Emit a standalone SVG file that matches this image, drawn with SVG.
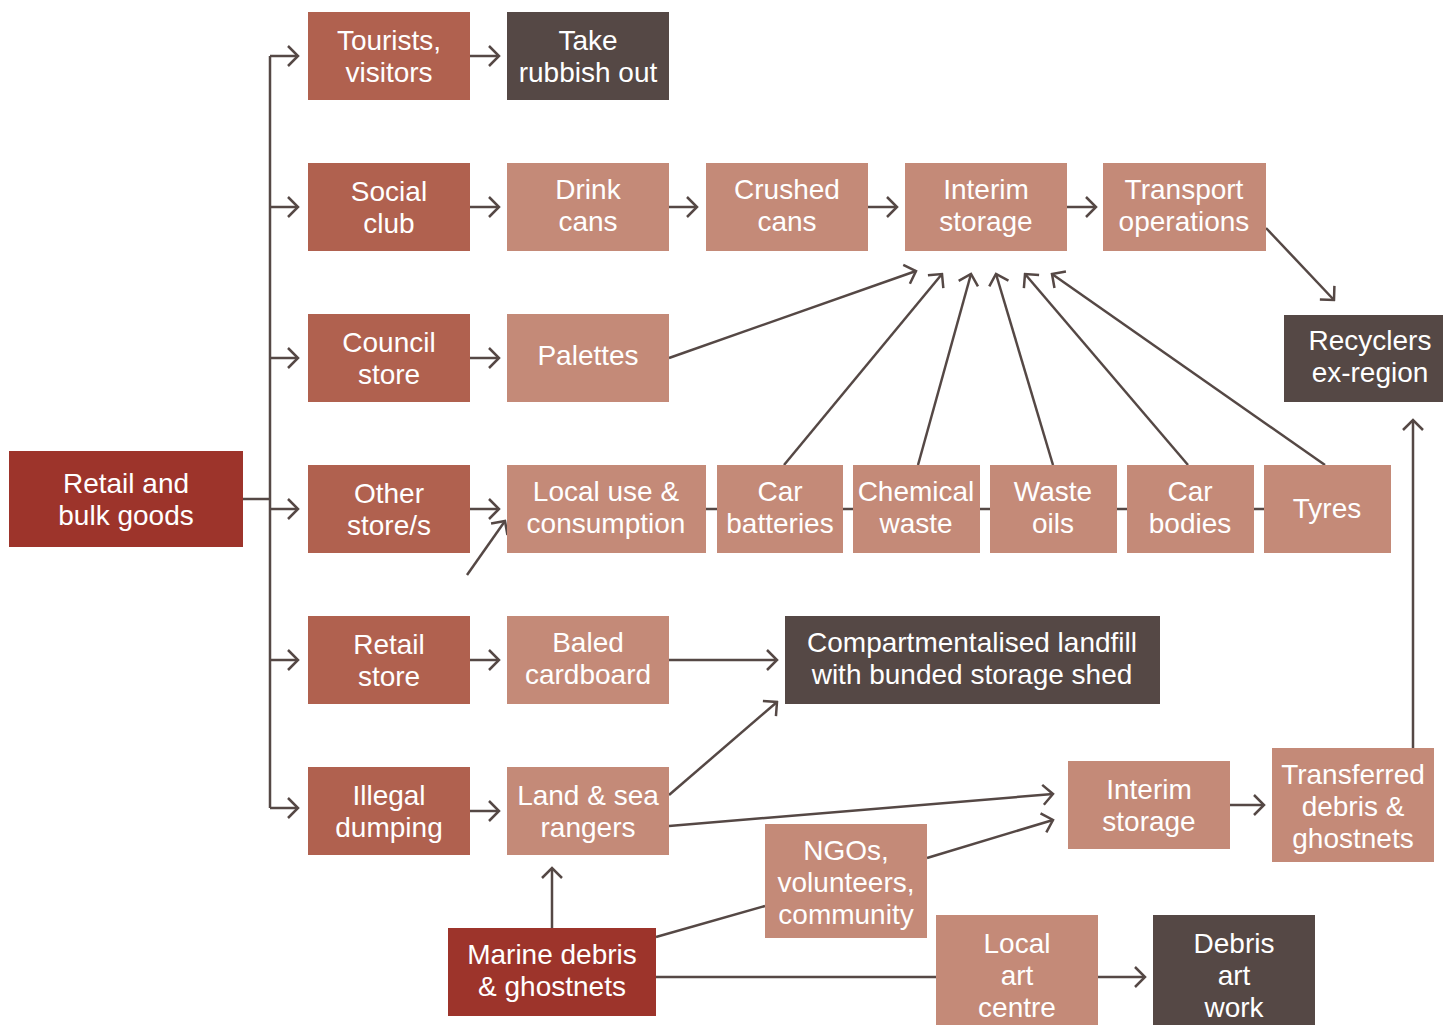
<svg xmlns="http://www.w3.org/2000/svg" width="1443" height="1025" viewBox="0 0 1443 1025">
<style>
.n rect{stroke:none}
.red{fill:#9d342b}
.mid{fill:#b0614f}
.lt{fill:#c48a78}
.dk{fill:#554845}
text{font-family:"Liberation Sans",Arial,Helvetica,sans-serif;font-size:28px;fill:#ffffff;text-anchor:middle}
.c line,.c polyline{stroke:#554845;stroke-width:2.5;fill:none}
</style>
<defs>
<marker id="ah" viewBox="-13 -13 15 26" refX="0" refY="0" markerWidth="15" markerHeight="26" markerUnits="userSpaceOnUse" orient="auto">
<path d="M-10,-10 L0,0 L-10,10" fill="none" stroke="#554845" stroke-width="2.5"/>
</marker>
</defs>
<rect width="1443" height="1025" fill="#ffffff"/>
<g class="c" id="connectors">
<polyline points="243,499 270,499"/>
<line x1="270" y1="56" x2="270" y2="808"/>
<line x1="270" y1="56" x2="298" y2="56" marker-end="url(#ah)"/>
<line x1="270" y1="207" x2="298" y2="207" marker-end="url(#ah)"/>
<line x1="270" y1="358" x2="298" y2="358" marker-end="url(#ah)"/>
<line x1="270" y1="509" x2="298" y2="509" marker-end="url(#ah)"/>
<line x1="270" y1="660" x2="298" y2="660" marker-end="url(#ah)"/>
<line x1="270" y1="808" x2="298" y2="808" marker-end="url(#ah)"/>
<line x1="470" y1="56" x2="499" y2="56" marker-end="url(#ah)"/>
<line x1="470" y1="207" x2="499" y2="207" marker-end="url(#ah)"/>
<line x1="470" y1="358" x2="499" y2="358" marker-end="url(#ah)"/>
<line x1="470" y1="509" x2="499" y2="509" marker-end="url(#ah)"/>
<line x1="467" y1="575" x2="505" y2="521" marker-end="url(#ah)"/>
<line x1="470" y1="660" x2="499" y2="660" marker-end="url(#ah)"/>
<line x1="470" y1="811" x2="499" y2="811" marker-end="url(#ah)"/>
<line x1="669" y1="207" x2="697" y2="207" marker-end="url(#ah)"/>
<line x1="868" y1="207" x2="897" y2="207" marker-end="url(#ah)"/>
<line x1="1067" y1="207" x2="1096" y2="207" marker-end="url(#ah)"/>
<line x1="1266" y1="228" x2="1334" y2="300" marker-end="url(#ah)"/>
<line x1="669" y1="358" x2="916" y2="271" marker-end="url(#ah)"/>
<line x1="706" y1="509" x2="1264" y2="509"/>
<line x1="784" y1="465" x2="942" y2="274" marker-end="url(#ah)"/>
<line x1="918" y1="465" x2="971" y2="274" marker-end="url(#ah)"/>
<line x1="1053" y1="465" x2="996" y2="274" marker-end="url(#ah)"/>
<line x1="1188" y1="465" x2="1025" y2="274" marker-end="url(#ah)"/>
<line x1="1325" y1="465" x2="1052" y2="274" marker-end="url(#ah)"/>
<line x1="669" y1="660" x2="777" y2="660" marker-end="url(#ah)"/>
<line x1="669" y1="795" x2="777" y2="702" marker-end="url(#ah)"/>
<line x1="669" y1="826" x2="1053" y2="794" marker-end="url(#ah)"/>
<line x1="927" y1="858" x2="1053" y2="820" marker-end="url(#ah)"/>
<line x1="1230" y1="805" x2="1264" y2="805" marker-end="url(#ah)"/>
<line x1="1413" y1="748" x2="1413" y2="420" marker-end="url(#ah)"/>
<line x1="552" y1="928" x2="552" y2="868" marker-end="url(#ah)"/>
<line x1="656" y1="937" x2="765" y2="906"/>
<line x1="656" y1="977" x2="936" y2="977"/>
<line x1="1098" y1="977" x2="1145" y2="977" marker-end="url(#ah)"/>
</g>
<g class="n" id="retail-bulk"><rect class="red" x="9" y="451" width="234" height="96"/><text x="126" y="493">Retail and<tspan x="126" dy="32">bulk goods</tspan></text></g>
<g class="n" id="tourists"><rect class="mid" x="308" y="12" width="162" height="88"/><text x="389" y="50">Tourists,<tspan x="389" dy="32">visitors</tspan></text></g>
<g class="n" id="take-rubbish"><rect class="dk" x="507" y="12" width="162" height="88"/><text x="588" y="50">Take<tspan x="588" dy="32">rubbish out</tspan></text></g>
<g class="n" id="social-club"><rect class="mid" x="308" y="163" width="162" height="88"/><text x="389" y="201">Social<tspan x="389" dy="32">club</tspan></text></g>
<g class="n" id="drink-cans"><rect class="lt" x="507" y="163" width="162" height="88"/><text x="588" y="199">Drink<tspan x="588" dy="32">cans</tspan></text></g>
<g class="n" id="crushed-cans"><rect class="lt" x="706" y="163" width="162" height="88"/><text x="787" y="199">Crushed<tspan x="787" dy="32">cans</tspan></text></g>
<g class="n" id="interim-storage-1"><rect class="lt" x="905" y="163" width="162" height="88"/><text x="986" y="199">Interim<tspan x="986" dy="32">storage</tspan></text></g>
<g class="n" id="transport"><rect class="lt" x="1103" y="163" width="163" height="88"/><text x="1184" y="199">Transport<tspan x="1184" dy="32">operations</tspan></text></g>
<g class="n" id="recyclers"><rect class="dk" x="1284" y="315" width="159" height="87"/><text x="1370" y="350">Recyclers<tspan x="1370" dy="32">ex-region</tspan></text></g>
<g class="n" id="council-store"><rect class="mid" x="308" y="314" width="162" height="88"/><text x="389" y="352">Council<tspan x="389" dy="32">store</tspan></text></g>
<g class="n" id="palettes"><rect class="lt" x="507" y="314" width="162" height="88"/><text x="588" y="365">Palettes</text></g>
<g class="n" id="other-stores"><rect class="mid" x="308" y="465" width="162" height="88"/><text x="389" y="503">Other<tspan x="389" dy="32">store/s</tspan></text></g>
<g class="n" id="local-use"><rect class="lt" x="507" y="465" width="199" height="88"/><text x="606" y="501">Local use &amp;<tspan x="606" dy="32">consumption</tspan></text></g>
<g class="n" id="car-batteries"><rect class="lt" x="717" y="465" width="126" height="88"/><text x="780" y="501">Car<tspan x="780" dy="32">batteries</tspan></text></g>
<g class="n" id="chemical-waste"><rect class="lt" x="853" y="465" width="127" height="88"/><text x="916" y="501">Chemical<tspan x="916" dy="32">waste</tspan></text></g>
<g class="n" id="waste-oils"><rect class="lt" x="990" y="465" width="127" height="88"/><text x="1053" y="501">Waste<tspan x="1053" dy="32">oils</tspan></text></g>
<g class="n" id="car-bodies"><rect class="lt" x="1127" y="465" width="127" height="88"/><text x="1190" y="501">Car<tspan x="1190" dy="32">bodies</tspan></text></g>
<g class="n" id="tyres"><rect class="lt" x="1264" y="465" width="127" height="88"/><text x="1327" y="518">Tyres</text></g>
<g class="n" id="retail-store"><rect class="mid" x="308" y="616" width="162" height="88"/><text x="389" y="654">Retail<tspan x="389" dy="32">store</tspan></text></g>
<g class="n" id="baled-cardboard"><rect class="lt" x="507" y="616" width="162" height="88"/><text x="588" y="652">Baled<tspan x="588" dy="32">cardboard</tspan></text></g>
<g class="n" id="landfill"><rect class="dk" x="785" y="616" width="375" height="88"/><text x="972" y="652">Compartmentalised landfill<tspan x="972" dy="32">with bunded storage shed</tspan></text></g>
<g class="n" id="illegal-dumping"><rect class="mid" x="308" y="767" width="162" height="88"/><text x="389" y="805">Illegal<tspan x="389" dy="32">dumping</tspan></text></g>
<g class="n" id="rangers"><rect class="lt" x="507" y="767" width="162" height="88"/><text x="588" y="805">Land &amp; sea<tspan x="588" dy="32">rangers</tspan></text></g>
<g class="n" id="interim-storage-2"><rect class="lt" x="1068" y="761" width="162" height="88"/><text x="1149" y="799">Interim<tspan x="1149" dy="32">storage</tspan></text></g>
<g class="n" id="transferred"><rect class="lt" x="1272" y="748" width="162" height="114"/><text x="1353" y="784">Transferred<tspan x="1353" dy="32">debris &amp;</tspan><tspan x="1353" dy="32">ghostnets</tspan></text></g>
<g class="n" id="ngos"><rect class="lt" x="765" y="824" width="162" height="114"/><text x="846" y="860">NGOs,<tspan x="846" dy="32">volunteers,</tspan><tspan x="846" dy="32">community</tspan></text></g>
<g class="n" id="marine-debris"><rect class="red" x="448" y="928" width="208" height="88"/><text x="552" y="964">Marine debris<tspan x="552" dy="32">&amp; ghostnets</tspan></text></g>
<g class="n" id="local-art"><rect class="lt" x="936" y="915" width="162" height="110"/><text x="1017" y="953">Local<tspan x="1017" dy="32">art</tspan><tspan x="1017" dy="32">centre</tspan></text></g>
<g class="n" id="debris-art"><rect class="dk" x="1153" y="915" width="162" height="110"/><text x="1234" y="953">Debris<tspan x="1234" dy="32">art</tspan><tspan x="1234" dy="32">work</tspan></text></g>
</svg>
